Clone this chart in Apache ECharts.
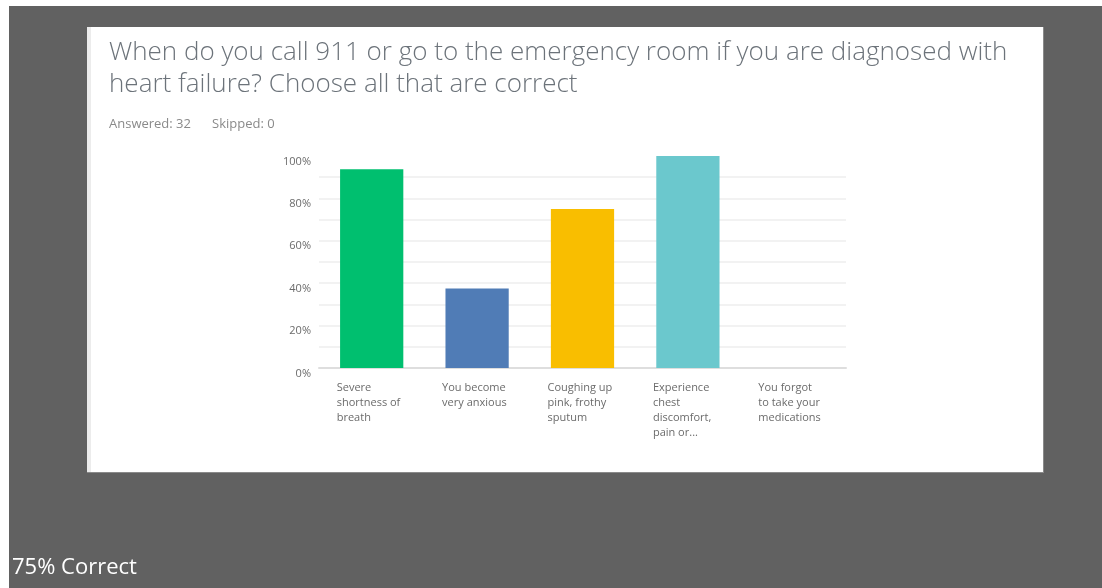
<!DOCTYPE html>
<html>
<head>
<meta charset="utf-8">
<script src="https://cdn.jsdelivr.net/npm/echarts@6/dist/echarts.min.js"></script>
<style>
html,body{margin:0;padding:0;background:#fff;}
#c{width:1102px;height:588px;}
</style>
</head>
<body>
<div id="c"></div>
<script>
const titleLines = ['When do you call 911 or go to the emergency room if you are diagnosed with', 'heart failure? Choose all that are correct'];
const answeredText = 'Answered: 32';
const skippedText = 'Skipped: 0';
const footer = '75% Correct';
const categories = [
  ['Severe', 'shortness of', 'breath'],
  ['You become', 'very anxious'],
  ['Coughing up', 'pink, frothy', 'sputum'],
  ['Experience', 'chest', 'discomfort,', 'pain or...'],
  ['You forgot', 'to take your', 'medications']
];
const values = [93.75, 37.5, 75, 100, 0];
const colors = ['#00bf6f', '#507cb6', '#f9be00', '#6bc8cd', '#ff8b4f'];
const yTicks = [0, 20, 40, 60, 80, 100];

const chart = echarts.init(document.getElementById('c'), null, {renderer: 'canvas'});
chart.setOption({
  animation: false,
  backgroundColor: '#ffffff',
  graphic: [
    {type: 'rect', z: -10, shape: {x: 9, y: 6, width: 1093, height: 582}, style: {fill: '#616161'}},
    {type: 'rect', z: -9, shape: {x: 87, y: 27, width: 957, height: 446}, style: {fill: '#8a8a8a'}},
    {type: 'rect', z: -8, shape: {x: 87, y: 27, width: 956, height: 445}, style: {fill: '#ffffff'}},
    {type: 'rect', z: -7, shape: {x: 87, y: 27, width: 4, height: 445}, style: {fill: '#ececec'}}
  ],
  title: [
    {text: titleLines.join('\n'), left: 109, top: 37, padding: 0,
     textStyle: {fontFamily: 'Open Sans', fontWeight: 300, fontSize: 26, lineHeight: 32, color: '#6c737a'}},
    {text: answeredText, left: 109, top: 118, padding: 0,
     textStyle: {fontFamily: 'Open Sans', fontWeight: 400, fontSize: 13, color: '#8a8a8a'}},
    {text: skippedText, left: 212, top: 118, padding: 0,
     textStyle: {fontFamily: 'Open Sans', fontWeight: 400, fontSize: 13, color: '#8a8a8a'}},
    {text: footer, left: 12, top: 557, padding: 0,
     textStyle: {fontFamily: 'Open Sans', fontWeight: 400, fontSize: 22, color: '#ffffff'}}
  ],
  grid: {left: 319, right: 256, top: 156, bottom: 220, containLabel: false},
  xAxis: {
    type: 'category',
    data: categories.map(c => c.join('\n')),
    axisLine: {lineStyle: {color: '#dedede', width: 2}},
    axisTick: {show: false},
    axisLabel: {
      interval: 0, margin: 12, align: 'center',
      formatter: v => v.split('\n').map(s => '{a|' + s + '}').join('\n'),
      rich: {a: {width: 70, align: 'left', fontFamily: 'Open Sans', fontSize: 11, lineHeight: 15, color: '#6b6b6b'}}
    }
  },
  yAxis: {
    type: 'value', min: 0, max: 100, interval: 10,
    axisLine: {show: false}, axisTick: {show: false},
    splitLine: {showMaxLine: false, lineStyle: {color: '#f2f2f2', width: 2}},
    axisLabel: {
      margin: 8, fontFamily: 'Open Sans', fontSize: 11, color: '#6b6b6b', verticalAlign: 'top',
      formatter: v => yTicks.indexOf(v) >= 0 ? v + '%' : ''
    }
  },
  series: [{
    type: 'bar', barWidth: '60%',
    data: values.map((v, i) => ({value: v, itemStyle: {color: colors[i]}}))
  }]
});
</script>
</body>
</html>
